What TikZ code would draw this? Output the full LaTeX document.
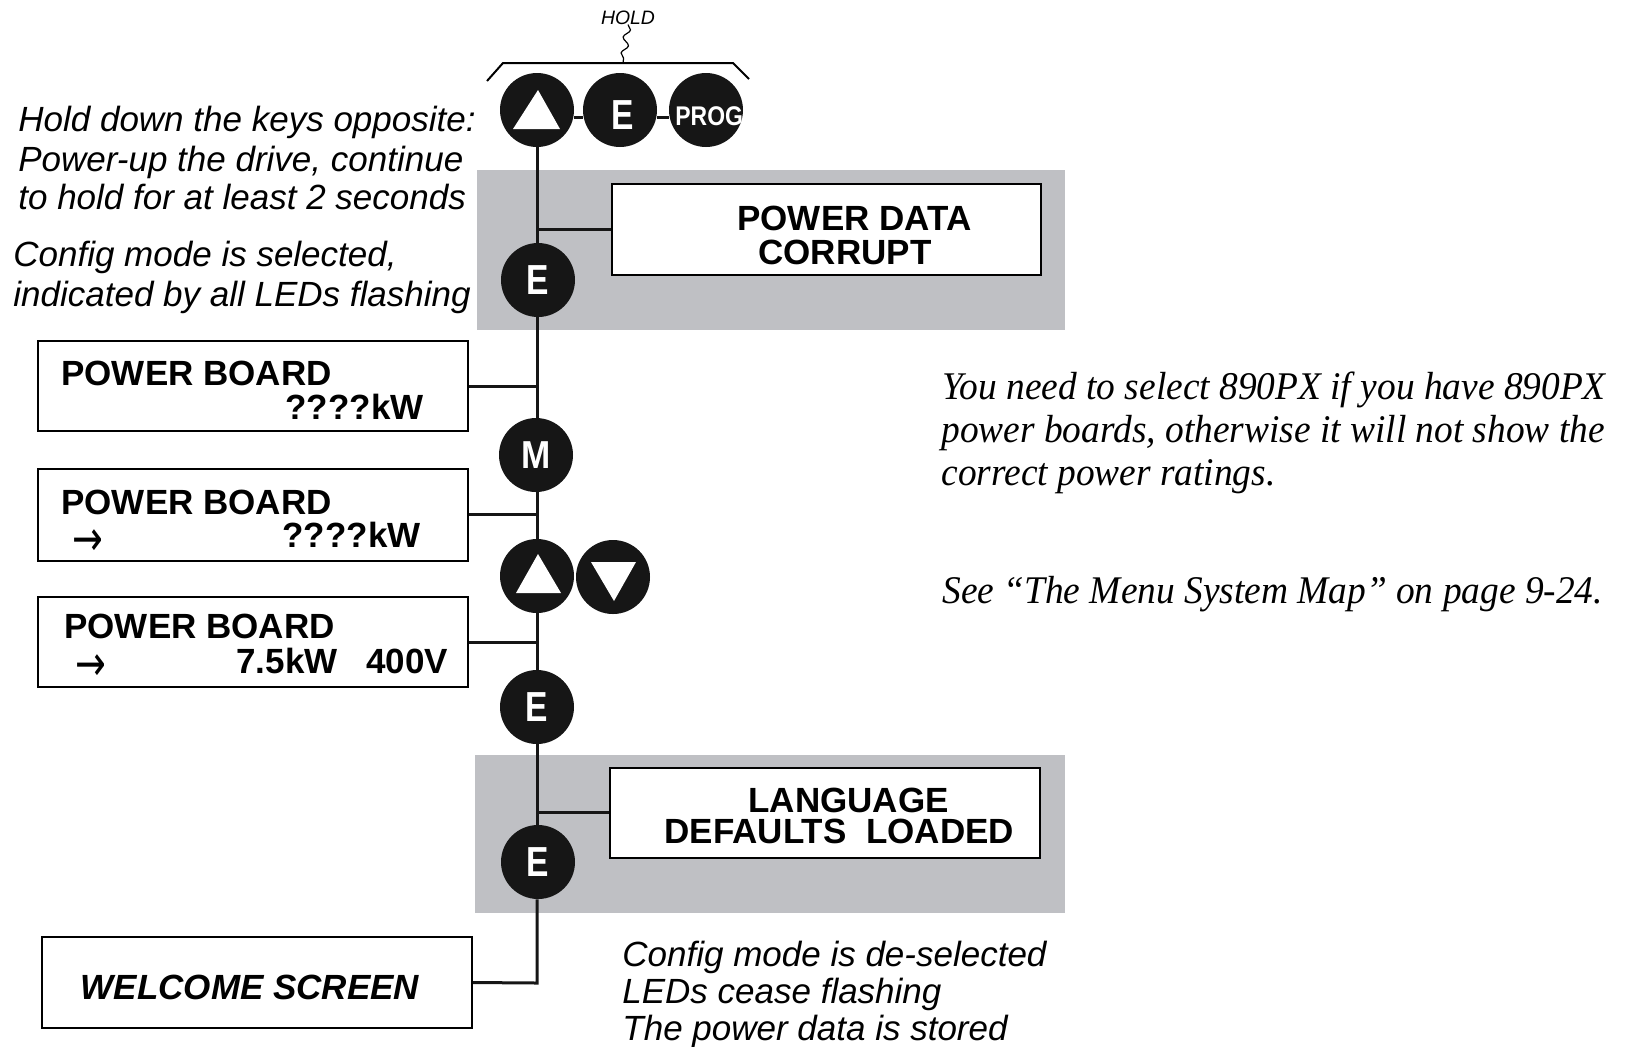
\documentclass[tikz,border=0pt]{standalone}
\usepackage{fontspec}
\setmainfont{Liberation Sans}
\newfontfamily\tnrfont{Liberation Serif}
\newfontfamily\arrowfont{DejaVu Sans}
\usepackage{graphicx}
\usetikzlibrary{decorations.pathmorphing}
\definecolor{panelgray}{RGB}{191,192,196}
\definecolor{keyblack}{RGB}{22,22,22}
\begin{document}
\begin{tikzpicture}[x=0.5pt,y=-0.5pt,
  keybtn/.style={circle, fill=keyblack, minimum size=37pt, inner sep=0pt, text=white,
    font=\fontsize{21}{21}\selectfont\bfseries},
  keylabel/.style={inner sep=0pt, text=white, font=\fontsize{21}{21}\selectfont\bfseries},
  lcd/.style={draw=black, line width=1pt, fill=white, inner sep=0pt},
  lcdtext/.style={inner sep=0pt, text depth=0pt, text height=12.6pt, font=\fontsize{17.5}{17.5}\selectfont\bfseries},
  lcdarrow/.style={inner sep=0pt, anchor=base west, font=\fontsize{17.5}{17.5}\selectfont\arrowfont},
  note/.style={inner sep=0pt, anchor=base west, font=\fontsize{17.5}{17.5}\selectfont\itshape},
  serifnote/.style={inner sep=0pt, anchor=base west, font=\fontsize{19.6}{19.6}\selectfont\tnrfont\itshape},
  flow/.style={line width=1.5pt, draw=keyblack},
]
\useasboundingbox (0,0) rectangle (1627,1046);

% grey panels
\fill[panelgray] (477,170) rectangle (1065,330);
\fill[panelgray] (475,755) rectangle (1065,913);

% LCD boxes
\node[lcd, minimum width=214.5pt, minimum height=45.5pt] (pd) at (826.5,229.5) {};
\node[lcd, minimum width=215pt, minimum height=45pt] (b1) at (253,386) {};
\node[lcd, minimum width=215pt, minimum height=46pt] (b2) at (253,514.5) {};
\node[lcd, minimum width=215pt, minimum height=45pt] (b3) at (253,642) {};
\node[lcd, minimum width=215pt, minimum height=45pt] (ldl) at (825,812.5) {};
\node[lcd, minimum width=215pt, minimum height=45.5pt] (wel) at (257,982.5) {};

% keys
\node[keybtn] (k1) at (537,110) {};
\node[keybtn] (k2) at (620,110) {};
\node[keybtn] (k3) at (706,110) {};
\node[keybtn] (e1) at (538,280) {\scalebox{0.8}[1]{E}};
\node[keybtn, font=\fontsize{19.5}{19.5}\selectfont\bfseries] (m) at (536,455) {\scalebox{0.9}[1]{M}};
\node[keybtn] (up) at (537,576) {};
\node[keybtn] (dn) at (613,577) {};
\node[keybtn] (e2) at (537,707) {\scalebox{0.8}[1]{E}};
\node[keybtn] (e3) at (538,862) {\scalebox{0.8}[1]{E}};
\coordinate (corner) at (537,983);

% labels of the top keys
\node[keylabel] (k2t) at (623,115) {\scalebox{0.8}[1]{E}};
\node[keylabel, anchor=west, font=\fontsize{13.5}{13.5}\selectfont\bfseries] (k3t) at (675,116) {\scalebox{0.85}[1]{PROG}};

% triangles
\fill[white, shift={(k1)}] (1,-20) -- (23,19) -- (-24,19) -- cycle;
\fill[white, shift={(up)}] (1,-22) -- (24,17) -- (-21,17) -- cycle;
\fill[white, shift={(dn)}] (-22,-15) -- (23,-15) -- (1,24) -- cycle;

% connectors
\draw[flow] ([yshift=-3.5pt]k1.east) -- ([yshift=-3.5pt]k2.west);
\draw[flow] ([yshift=-3.5pt]k2.east) -- ([yshift=-3.5pt]k3.west);
\draw[flow] (k1) -- (e1.north -| k1);
\draw[flow] (e1.south -| k1) -- (m.north -| k1);
\draw[flow] (m.south -| k1) -- (up);
\draw[flow] (up) -- (e2) -- (e3.north -| k1);
\draw[flow] (e3.south -| k1) -- (corner) -- (wel.east);
\draw[flow] (pd.west) -- (pd.west -| k1);
\draw[flow] (b1.east) -- (b1.east -| k1);
\draw[flow] (b2.east) -- (b2.east -| k1);
\draw[flow] (b3.east) -- (b3.east -| k1);
\draw[flow] (ldl.west) -- (ldl.west -| k1);

% HOLD bracket
\node[inner sep=0pt, anchor=base, font=\fontsize{9.7}{9.7}\selectfont\itshape] (hold) at (628,24) {HOLD};
\coordinate (brtop) at (623,63);
\draw[line width=0.6pt, decorate, decoration={snake, amplitude=1.6pt, segment length=8pt}] (hold.south) -- (brtop);
\draw[line width=1pt] (487,81) -- (503,63) -- (733,63) -- (749,79);

% LCD texts
\node[lcdtext, anchor=base west] (pdt1) at (737,230) {POWER DATA};
\node[lcdtext, anchor=base west] (pdt2) at (758,264) {CORRUPT};
\node[lcdtext, anchor=base west] (b1t1) at (61,385) {POWER BOARD};
\node[lcdtext, anchor=base east] (b1t2) at (424,419) {????kW};
\node[lcdtext, anchor=base west] (b2t1) at (61,514) {POWER BOARD};
\node[lcdarrow] (b2a) at (72,547) {\raisebox{-4pt}{\scalebox{1.05}[1.4]{→}}};
\node[lcdtext, anchor=base east] (b2t2) at (421,547) {????kW};
\node[lcdtext, anchor=base west] (b3t1) at (64,638) {POWER BOARD};
\node[lcdarrow] (b3a) at (75,672) {\raisebox{-4pt}{\scalebox{1.05}[1.4]{→}}};
\node[lcdtext, anchor=base west] (b3t2) at (236,673) {7.5kW\hspace{14.5pt}400V};
\node[lcdtext, anchor=base west] (lt1) at (748,812) {LANGUAGE};
\node[lcdtext, anchor=base west] (lt2) at (664,843) {DEFAULTS\hspace{5pt} LOADED};
\node[lcdtext, anchor=base, font=\fontsize{17.5}{17.5}\selectfont\bfseries\itshape] (welt) at (250,999) {WELCOME SCREEN};

% notes left
\node[note] (n1) at (18,131) {Hold down the keys opposite:};
\node[note] (n2) at (18,171) {Power-up the drive, continue};
\node[note] (n3) at (18,209) {to hold for at least 2 seconds};
\node[note] (n4) at (13,266) {Config mode is selected,};
\node[note] (n5) at (13,306) {indicated by all LEDs flashing};

% notes bottom
\node[note] (n6) at (622,966) {Config mode is de-selected};
\node[note] (n7) at (622,1003) {LEDs cease flashing};
\node[note] (n8) at (622,1040) {The power data is stored};

% notes right
\node[serifnote] (s1) at (942,399) {\scalebox{0.954}[1]{You need to select 890PX if you have 890PX}};
\node[serifnote] (s2) at (941,442) {\scalebox{0.954}[1]{power boards, otherwise it will not show the}};
\node[serifnote] (s3) at (941,485) {\scalebox{0.954}[1]{correct power ratings.}};
\node[serifnote] (s4) at (942,603) {\scalebox{0.954}[1]{See “The Menu System Map” on page 9-24.}};
\end{tikzpicture}
\end{document}
